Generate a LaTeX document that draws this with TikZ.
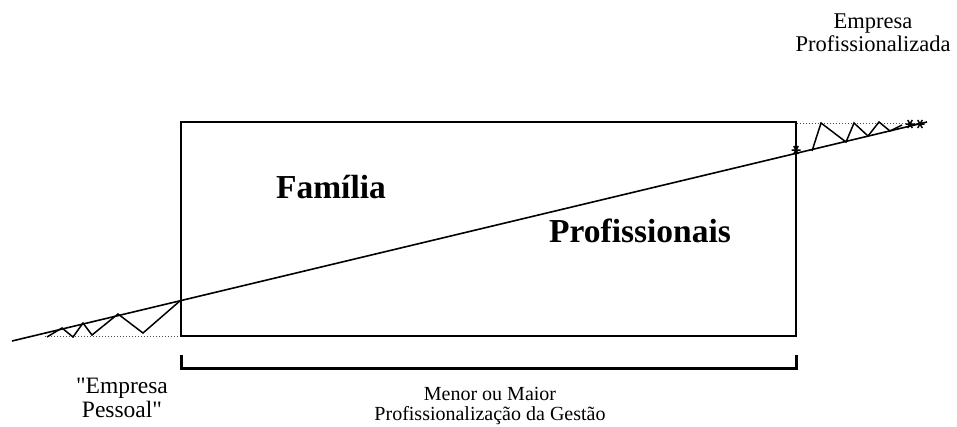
\documentclass[tikz,border=0pt]{standalone}
\usepackage{fontspec}
\setmainfont{Liberation Serif}[Ligatures=TeXOff]
\begin{document}
\begin{tikzpicture}[x=1pt,y=-1pt,
  frame/.style={draw=black,line width=1.5pt},
  trend/.style={draw=black,line width=1.6pt},
  zig/.style={draw=black,line width=1.5pt,line join=miter},
  guide/.style={draw=black!70,line width=1pt,dotted},
  brace/.style={draw=black,line width=3pt},
  lbl/.style={inner sep=0pt,anchor=base,font=\fontsize{22.5}{26}\selectfont},
  big/.style={inner sep=0pt,anchor=base,font=\fontsize{33.5}{38}\selectfont\bfseries},
  asterisk/.pic={\draw[line width=1.5pt] (-4.5,0) -- (4.5,0) (-2.3,-4) -- (2.3,4) (2.3,-4) -- (-2.3,4);}
]
\path[use as bounding box] (0,0) rectangle (957,426);

% central box
\draw[frame] (181,122) rectangle (796,336);

% trend line crossing the box
\coordinate (tA) at (12,341);
\coordinate (tB) at (927,122);
\draw[trend] (tA) -- (tB);

% left dotted base and zigzag
\draw[guide] (45,336) -- (180,336);
\draw[zig] (47,337) -- (62,328) -- (73,337) -- (83,323) -- (92,335) -- (118,314) -- (143,333) -- (181,300);

% right dotted top and zigzag
\draw[guide] (797,123) -- (920,123);
\draw[zig] (812,151) -- (821,123) -- (846,142) -- (854,123) -- (868,136) -- (879,122) -- (890,131) -- (902,125);
\pic at (796,150) {asterisk};
\pic at (910,124) {asterisk};
\pic at (920,124) {asterisk};

% bracket under the box
\draw[brace] (181,355) -- (181,368) -- (796,368) -- (796,355);

% texts
\node[big] (fam) at (331,198) {Família};
\node[big] (pro) at (640,242) {Profissionais};

\node[lbl] (ep1) at (873,28) {Empresa};
\node[lbl] (ep2) at (873,51) {Profissionalizada};

\node[lbl,font=\fontsize{23.5}{27}\selectfont] (pe1) at (122,393) {"Empresa};
\node[lbl,font=\fontsize{23.5}{27}\selectfont] (pe2) at (122,417) {Pessoal"};

\node[lbl,font=\fontsize{20}{24}\selectfont] (g1) at (490,400) {Menor ou Maior};
\node[lbl,font=\fontsize{20}{24}\selectfont] (g2) at (490,420) {Profissionalização da Gestão};
\end{tikzpicture}
\end{document}
